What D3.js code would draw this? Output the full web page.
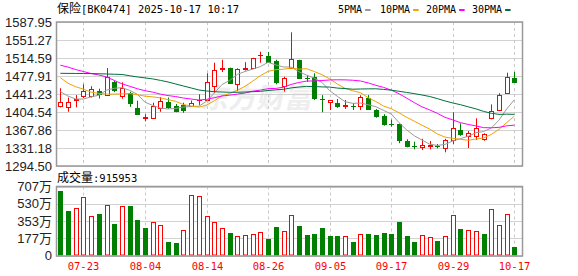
<!DOCTYPE html>
<html>
<head>
<meta charset="utf-8">
<script src="https://cdn.jsdelivr.net/npm/d3@7/dist/d3.min.js"></script>
<style>
  body { margin: 0; background: #fff; }
  svg { display: block; }
</style>
</head>
<body>
<svg id="chart" width="578" height="276"></svg>
<script>
'use strict';

// --- data ---
var title = '[BK0474] 2025-10-17 10:17'
  , titleName = '保险'
  , volLabel = ':915953'
  , preClose = 1430   // close before the first day (first volume bar is green)

var dates = ['07-18','07-21','07-22','07-23','07-24','07-25','07-28','07-29','07-30','07-31',
             '08-01','08-04','08-05','08-06','08-07','08-08','08-11','08-12','08-13','08-14',
             '08-15','08-18','08-19','08-20','08-21','08-22','08-25','08-26','08-27','08-28',
             '08-29','09-01','09-02','09-03','09-04','09-05','09-08','09-09','09-10','09-11',
             '09-12','09-15','09-16','09-17','09-18','09-19','09-22','09-23','09-24','09-25',
             '09-26','09-29','09-30','10-09','10-10','10-13','10-14','10-15','10-16','10-17'];

var tickDates = ['07-23','08-04','08-14','08-26','09-05','09-17','09-29','10-17'];

var open = [1417,1415,1429,1436.5,1438,1447,1438.5,1465,1436.5,1444,
            1413,1393,1391.7,1413,1425,1417,1419,1417,1428,1428.4,
            1458,1493,1493.6,1461,1493,1495,1520,1518.7,1508.5,1457,
            1494.8,1510,1473.5,1476.5,1431.5,1424.3,1423,1416.2,1417,1416,
            1432.5,1408.6,1397,1381,1379.5,1345.5,1336,1332.6,1336,1335.5,
            1330.6,1347.5,1368.5,1355,1355,1349,1391.7,1408,1442.7,1473];

var high = [1453,1434,1439,1461,1457,1452,1494,1468,1465,1446,
            1427.6,1400,1423.5,1435,1434,1421,1423.5,1428,1440.6,1483.4,
            1505,1511,1495,1493.6,1506,1515,1527.4,1527,1511,1476.5,
            1567,1511,1480,1483.4,1439,1429,1431,1429,1423,1438.6,
            1439,1410.7,1400,1389,1381,1349,1344,1350,1345.5,1339.3,
            1350,1404,1381.5,1365.8,1391.7,1361,1420,1442.7,1484.6,1486];

var low = [1414,1405,1414,1432.5,1434,1432,1437,1445,1431.6,1415,
           1401,1385.6,1390.3,1405,1411,1404,1403,1416.5,1419,1427,
           1443,1486,1462,1447,1489,1493.6,1505,1506,1461,1446,
           1494,1473,1466,1429,1404,1408.6,1413,1410.7,1408.6,1408.6,
           1408.6,1393,1376.6,1374.6,1341,1332.6,1328.5,1327,1328.5,1330.6,
           1322.4,1339.3,1356,1331,1347.5,1346,1389.7,1407.5,1442,1465.5];

var close = [1424.5,1424,1431,1447,1451,1441,1475,1450,1454,1423.5,
             1401,1394,1417.4,1426,1415,1407,1408,1422,1430,1465,
             1490,1495,1464,1491.6,1495,1514,1521.5,1507,1465,1474,
             1512.5,1474.5,1473,1433.7,1431,1428.4,1416,1418.8,1416.5,1434.5,
             1410.7,1396.4,1380.7,1380.5,1347.5,1336,1335.5,1337.3,1338,1335,
             1347,1371.3,1360.3,1361.7,1371.3,1359,1407.2,1440,1476,1466];

// volume, in 万
var volume = [663,459,486,599,405,428,517,326,507,510,
              360,286,347,313,143,133,265,619,609,405,
              344,283,235,201,211,221,242,173,296,255,
              415,306,214,224,286,204,204,201,143,221,
              224,214,235,224,347,204,143,211,191,153,
              201,415,275,265,252,224,476,313,425,91.6];

var ma5 = [1446,1437,1431,1431,1435.4,1438.8,1449.0,1452.8,1454.2,1448.7,
           1440.7,1424.5,1418.0,1412.4,1410.7,1411.9,1414.7,1415.6,1416.4,1426.4,
           1443.0,1460.4,1468.8,1481.1,1487.1,1491.9,1497.2,1505.8,1500.5,1496.3,
           1496.0,1486.6,1479.8,1473.5,1464.9,1448.1,1436.4,1425.6,1422.1,1422.8,
           1419.3,1415.4,1407.8,1400.6,1383.2,1368.2,1356.0,1347.4,1338.9,1336.4,
           1338.6,1345.7,1350.3,1355.1,1362.3,1364.7,1371.9,1387.8,1410.7,1429.6];

var ma10 = [1474.5,1463,1456,1451,1445,1442.5,1441,1441,1441.5,1442.1,
            1439.8,1436.8,1435.4,1433.3,1429.7,1426.3,1419.6,1416.8,1414.4,1418.5,
            1427.4,1437.5,1442.2,1448.8,1456.8,1467.5,1478.8,1487.3,1490.8,1491.7,
            1494.0,1491.9,1492.8,1487.0,1480.6,1472.1,1461.5,1452.7,1447.8,1443.9,
            1433.7,1425.9,1416.7,1411.4,1403.0,1393.8,1385.7,1377.6,1369.7,1359.8,
            1353.4,1350.9,1348.8,1347.0,1349.3,1351.6,1358.8,1369.1,1382.9,1396.0];

var ma20 = [1500,1496,1491,1487,1483,1480,1476,1469,1462,1457,
            1452,1448,1445,1441,1438,1436,1433,1431,1429,1430.3,
            1433.6,1437.2,1438.8,1441.0,1443.2,1446.9,1449.2,1452.1,1452.6,1455.1,
            1460.7,1464.7,1467.5,1467.9,1468.7,1469.8,1470.2,1470.0,1469.3,1467.8,
            1463.8,1458.9,1454.7,1449.2,1441.8,1432.9,1423.6,1415.1,1408.8,1401.8,
            1393.6,1388.4,1382.8,1379.2,1376.2,1372.7,1372.3,1373.3,1376.3,1377.8];

var ma30 = [1483.4,1483.2,1483.1,1483,1482.8,1482.5,1482,1481.5,1481,1478.5,
            1476,1474,1472,1469,1465.7,1461.6,1457.5,1453.5,1449.4,1447.4,
            1445.9,1445.3,1444.7,1444.7,1445.3,1445.9,1446.7,1448.3,1449.8,1450.8,
            1453.7,1455.4,1456.8,1456.4,1455.7,1455.3,1453.3,1452.3,1451.0,1451.4,
            1451.7,1451.8,1450.6,1449.0,1446.8,1444.4,1442.0,1439.2,1436.1,1431.8,
            1427.0,1422.9,1419.4,1415.1,1411.0,1405.8,1402.0,1399.7,1400.1,1399.8];

var priceTicks = ['1587.95','1551.27','1514.59','1477.91','1441.23','1404.54','1367.86','1331.18','1294.50'];
var volTicks = [707, 530, 353, 177, 0];

var maNames = ['5PMA','10PMA','20PMA','30PMA'];

// --- look ---
var RED = '#ff0000'
  , GREEN = '#008000'
  , maColors = ['#9a9a9a','#f2a200','#ff00ff','#00703c']
  , FRAME = '#999'
  , GRID = '#d2d2d2'
  , MONO = '"DejaVu Sans Mono", monospace'
  , CJK = '"Noto Sans CJK SC", sans-serif'
  , NUM = '"Liberation Sans", Arial, "Noto Sans CJK SC", sans-serif'

var left = 56, right = 522
  , kTop = 22, kBottom = 166
  , vTop = 186.5, vBottom = 255.5

var svg = d3.select('#chart');

var x = d3.scaleBand().domain(d3.range(dates.length)).range([56.5, 518.2]);
function cx(i){ return Math.round(x(i) + x.bandwidth() / 2) + 0.5; }

var y = d3.scaleLinear().domain([+priceTicks[priceTicks.length - 1], +priceTicks[0]]).range([kBottom, kTop]);
var yv = d3.scaleLinear().domain([0, volTicks[0]]).range([vBottom, vTop]);

// header
var head = svg.append('text').attr('x', 57).attr('y', 13).attr('fill', '#000');
head.append('tspan').style('font-family', CJK).style('font-size', '12px').text(titleName);
head.append('tspan').style('font-family', MONO).style('font-size', '10.5px').text(title);

var leg = svg.append('g').attr('class', 'legend')
  , legX = [338, 380, 426, 472];
maNames.forEach(function(n, k){
  var t = leg.append('text')
    .attr('x', legX[k]).attr('y', 13)
    .style('font-family', MONO).style('font-size', '10px')
    .attr('fill', '#000').text(n);
  var w = t.node().getComputedTextLength();
  leg.append('rect')
    .attr('x', legX[k] + w + 3).attr('y', 9)
    .attr('width', 5.5).attr('height', 2)
    .attr('fill', maColors[k]);
});

// watermark
svg.append('text')
  .attr('transform', 'translate(200,108) skewX(-12)')
  .style('font-family', CJK).style('font-size', '28px').style('font-weight', 'bold')
  .attr('fill', '#eeeeee').text('东方财富');

// grids
function hgrid(g, ys){
  g.selectAll('line.h').data(ys).enter().append('line')
    .attr('class', 'h')
    .attr('x1', left).attr('x2', right)
    .attr('y1', function(d){ return Math.round(d) + 0.5; })
    .attr('y2', function(d){ return Math.round(d) + 0.5; })
    .attr('stroke', GRID);
}
function vgrid(g, top, bottom){
  g.selectAll('line.v').data(tickDates).enter().append('line')
    .attr('class', 'v')
    .attr('x1', function(d){ return cx(dates.indexOf(d)); })
    .attr('x2', function(d){ return cx(dates.indexOf(d)); })
    .attr('y1', top).attr('y2', bottom)
    .attr('stroke', '#c8c8c8').attr('stroke-dasharray', '3,3');
}

var gk = svg.append('g');
hgrid(gk, priceTicks.map(function(d){ return y(+d); }));
vgrid(gk, kTop, kBottom);

var gv = svg.append('g');
hgrid(gv, volTicks.map(function(d){ return yv(d); }));
vgrid(gv, vTop, vBottom);

// price axis
var ay = svg.append('g').attr('transform', 'translate(' + left + ',0)')
  .call(d3.axisLeft(y)
    .tickValues(priceTicks.map(Number))
    .tickFormat(function(d, i){ return priceTicks[i]; })
    .tickSize(0).tickPadding(4));
ay.select('.domain').remove();
ay.selectAll('text').style('font-family', NUM).style('font-size', '13px').attr('fill', '#222');

// volume axis
var av = svg.append('g').attr('transform', 'translate(' + left + ',0)')
  .call(d3.axisLeft(yv)
    .tickValues(volTicks)
    .tickFormat(function(d){ return d ? d + '万' : '0'; })
    .tickSize(0).tickPadding(4));
av.select('.domain').remove();
av.selectAll('text').style('font-family', NUM).style('font-size', '13px').attr('fill', '#222');

// date labels
svg.append('g').selectAll('text').data(tickDates).enter().append('text')
  .attr('x', function(d){ return cx(dates.indexOf(d)); })
  .attr('y', 270)
  .attr('text-anchor', 'middle')
  .style('font-family', MONO).style('font-size', '10.5px')
  .attr('fill', RED).text(function(d){ return d; });

// volume caption
var cap = svg.append('text').attr('x', 57).attr('y', 182).attr('fill', '#000');
cap.append('tspan').style('font-family', CJK).style('font-size', '12px').text('成交量');
cap.append('tspan').style('font-family', MONO).style('font-size', '10.5px').text(volLabel);

// candles
var candles = svg.append('g').selectAll('g').data(dates).enter().append('g');

candles.each(function(d, i){
  var g = d3.select(this)
    , up = close[i] >= open[i]
    , col = up ? RED : GREEN
    , xc = cx(i)
    , top = Math.round(y(Math.max(open[i], close[i]))) + 0.5
    , bot = Math.round(y(Math.min(open[i], close[i]))) + 0.5

  g.append('line')
    .attr('x1', xc).attr('x2', xc)
    .attr('y1', y(high[i])).attr('y2', y(low[i]))
    .attr('stroke', col);

  if (bot - top < 1){
    g.append('line')
      .attr('x1', xc - 2.5).attr('x2', xc + 2.5)
      .attr('y1', top).attr('y2', top)
      .attr('stroke', col);
  } else {
    g.append('rect')
      .attr('x', xc - 2).attr('width', 4)
      .attr('y', top).attr('height', bot - top)
      .attr('fill', up ? '#fff' : col)
      .attr('stroke', col);
  }
});

// volume bars (colour follows close vs. previous close)
svg.append('g').selectAll('rect').data(volume).enter().append('rect')
  .each(function(v, i){
    var prev = i ? close[i - 1] : preClose
      , up = close[i] >= prev
      , top = Math.round(yv(v)) + 0.5
    d3.select(this)
      .attr('x', cx(i) - 2).attr('width', 4)
      .attr('y', top).attr('height', Math.max(vBottom - 0.5 - top, 1))
      .attr('fill', up ? '#fff' : GREEN)
      .attr('stroke', up ? RED : GREEN);
  });

// moving averages
var line = d3.line()
  .x(function(d, i){ return x(i) + x.bandwidth() / 2; })
  .y(function(d){ return y(d); });

[ma5, ma10, ma20, ma30].forEach(function(s, k){
  svg.append('path')
    .datum(s)
    .attr('d', line)
    .attr('fill', 'none')
    .attr('stroke', maColors[k])
    .attr('stroke-width', 1);
});

// frames
function frame(top, bottom){
  svg.append('rect')
    .attr('x', left + 0.5).attr('y', top)
    .attr('width', right - left).attr('height', bottom - top)
    .attr('fill', 'none').attr('stroke', FRAME).attr('stroke-width', 1.5);
}
frame(kTop, kBottom);
frame(vTop, vBottom + 0.5);
</script>
</body>
</html>
